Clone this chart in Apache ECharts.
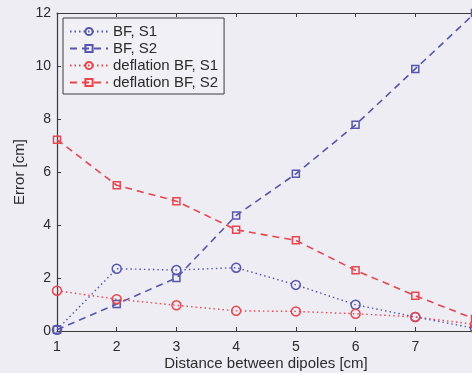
<!DOCTYPE html>
<html>
<head>
<meta charset="utf-8">
<script src="https://cdn.jsdelivr.net/npm/echarts@6/dist/echarts.min.js"></script>
<style>
  html, body { margin: 0; padding: 0; background: #eeedf4; }
  #chart { width: 472px; height: 373px; }
</style>
</head>
<body>
<div id="chart"></div>
<script>
// Distance between the two dipoles (cm)
const distances = [1, 2, 3, 4, 5, 6, 7, 8];

// Localisation error (cm) per method and source
const bfS1 = [0.05, 2.35, 2.3, 2.39, 1.74, 0.99, 0.53, 0.1];
const bfS2 = [0.05, 1.02, 2.0, 4.36, 5.93, 7.78, 9.89, 12.0];
const deflS1 = [1.52, 1.2, 0.97, 0.76, 0.74, 0.65, 0.53, 0.25];
const deflS2 = [7.22, 5.5, 4.9, 3.82, 3.42, 2.29, 1.33, 0.45];

const seriesNames = ['BF, S1', 'BF, S2', 'deflation BF, S1', 'deflation BF, S2'];
const xTickLabels = ['1', '2', '3', '4', '5', '6', '7'];
const yTicks = [0, 2, 4, 6, 8, 10, 12];

const BLUE = '#5656ac';
const RED = '#e8464e';
const INK = '#2b2b2b';
const FONT = 'Liberation Sans';

const pairs = ys => distances.map((d, i) => [d, ys[i]]);

function lineSeries(name, ys, color, dash, symbol, size) {
  return {
    name: name,
    type: 'line',
    data: pairs(ys),
    symbol: symbol,
    symbolSize: size,
    showAllSymbol: true,
    itemStyle: { color: 'rgba(0,0,0,0)', borderColor: color, borderWidth: 1.5 },
    lineStyle: { color: color, width: dash === 'dashed' ? 1.6 : 1.4, type: dash === 'dashed' ? [7, 5] : [1.5, 3] },
    emphasis: { disabled: true },
    animation: false,
    z: 3
  };
}

const chart = echarts.init(document.getElementById('chart'), null, { renderer: 'canvas' });

const axisLine = { lineStyle: { color: '#3a3a3a', width: 1.2 } };

chart.setOption({
  backgroundColor: '#eeedf4',
  textStyle: { fontFamily: FONT, color: INK },
  grid: { left: 57, top: 13, bottom: 42, right: -3, containLabel: false, outerBoundsMode: 'none' },
  legend: {
    orient: 'vertical',
    left: 63,
    top: 18,
    padding: [6, 6, 4, 6],
    itemGap: 2,
    itemWidth: 38,
    itemHeight: 9,
    backgroundColor: '#f1f0f5',
    borderColor: '#3a3a3a',
    borderWidth: 1,
    borderRadius: 0,
    textStyle: { fontFamily: FONT, fontSize: 15, lineHeight: 15, color: INK, padding: [0, 0, 0, 0] },
    data: seriesNames
  },
  xAxis: [{
    type: 'value',
    min: 1, max: 8, interval: 1,
    name: 'Distance between dipoles [cm]',
    nameLocation: 'middle',
    nameGap: 25,
    nameMoveOverlap: false,
    nameTextStyle: { fontFamily: FONT, fontSize: 15, color: INK },
    axisLine: axisLine,
    axisTick: { inside: true, length: 4, lineStyle: { color: '#3a3a3a' } },
    axisLabel: {
      margin: 9, fontSize: 14, color: INK, fontFamily: FONT,
      formatter: v => xTickLabels[v - 1] || ''
    },
    splitLine: { show: false }
  }, {
    type: 'value',
    position: 'top',
    min: 1, max: 8, interval: 1,
    axisLine: axisLine,
    axisTick: { inside: true, length: 4, lineStyle: { color: '#3a3a3a' } },
    axisLabel: { show: false },
    splitLine: { show: false }
  }],
  yAxis: {
    type: 'value',
    min: 0, max: 12, interval: 2,
    name: 'Error [cm]',
    nameLocation: 'middle',
    nameGap: 30,
    nameMoveOverlap: false,
    nameTextStyle: { fontFamily: FONT, fontSize: 15, color: INK },
    axisLine: { show: true, lineStyle: { color: '#3a3a3a', width: 1.2 } },
    axisTick: { show: true, inside: true, length: 4, lineStyle: { color: '#3a3a3a' } },
    axisLabel: {
      margin: 6, fontSize: 14, color: INK, fontFamily: FONT,
      formatter: v => (yTicks.indexOf(v) >= 0 ? String(v) : '')
    },
    splitLine: { show: false }
  },
  series: [
    lineSeries(seriesNames[0], bfS1, BLUE, 'dotted', 'circle', 9),
    lineSeries(seriesNames[1], bfS2, BLUE, 'dashed', 'rect', 7),
    lineSeries(seriesNames[2], deflS1, RED, 'dotted', 'circle', 9),
    lineSeries(seriesNames[3], deflS2, RED, 'dashed', 'rect', 7)
  ]
});
</script>
</body>
</html>
